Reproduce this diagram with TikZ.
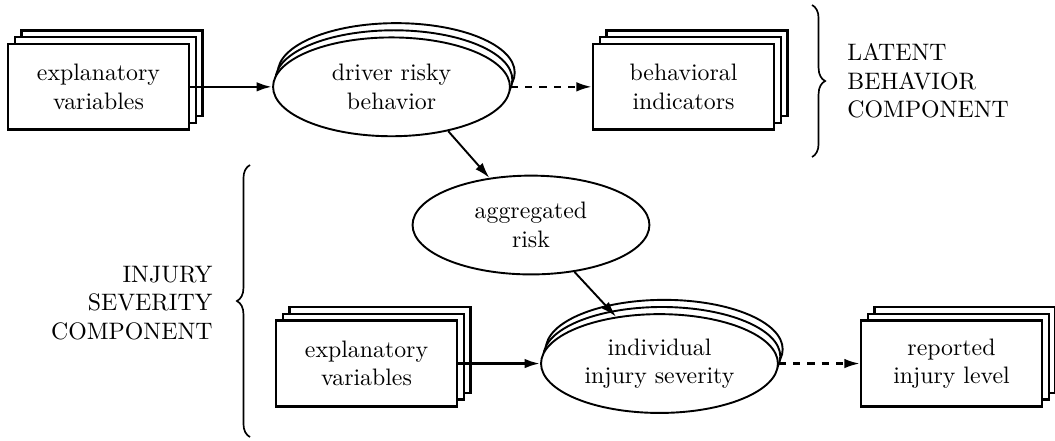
\documentclass[tikz,border=0pt]{standalone}
\usepackage{amsmath, amssymb}
\usepackage{tikz}
\usetikzlibrary{shapes, arrows.meta, positioning, shadows, decorations.pathreplacing}

\begin{document}
\begin{tikzpicture}[
    stackbox/.style={rectangle, draw, line width=1pt, fill=white, align=center,
        minimum width=76pt, minimum height=36pt,
        double copy shadow={shadow xshift=2.85pt, shadow yshift=2.85pt, fill=white, draw=black, line width=1pt}},
    stackell/.style={ellipse, draw, line width=0.8pt, fill=white, align=center,
        minimum width=99.5pt, minimum height=41.5pt,
        double copy shadow={shadow xshift=1pt, shadow yshift=3pt, fill=white, draw=black, line width=0.8pt}},
    latvar/.style={ellipse, draw, line width=0.8pt, align=center, minimum width=99.5pt, minimum height=41.5pt},
    compo/.style={inner sep=0pt},
    link/.style={-{Latex[length=6.5pt,width=4pt]}},
    brc/.style={line width=0.7pt, decorate, decoration={brace, amplitude=5.5pt}}
  ]
    \useasboundingbox (0,0) rectangle (15.575,6.496);

    % latent behavior part
    \node[stackbox] (explA) at (1.454,5.214) {explanatory\\variables};
    \node[stackell] (risky) at (5.780,5.214) {driver risky\\behavior};
    \node[stackbox] (indic) at (10.091,5.214) {behavioral\\indicators};
    \node[latvar] (aggr) at (7.839,3.174) {aggregated\\risk};

    % injury severity part
    \node[stackbox] (explB) at (5.411,1.129) {explanatory\\variables};
    \node[stackell] (injury) at (9.736,1.129) {individual\\injury severity};
    \node[stackbox] (report) at (14.047,1.129) {reported\\injury level};

    \draw[link, line width=1.1pt] (explA) -- (risky);
    \draw[link, line width=1pt, dashed] (risky) -- (indic);
    \draw[link, line width=0.8pt] (risky.-38) -- (aggr);
    \draw[link, line width=0.8pt] (aggr) -- (injury);
    \draw[link, line width=1.1pt] (explB) -- (injury);
    \draw[link, line width=1pt, dashed] (injury) -- (report);

    % braces and labels
    \draw[brc] (11.988,6.422) -- (11.988,4.178);
    \node[compo, anchor=west, align=left] (latent) at (12.504,5.300) {LATENT\\BEHAVIOR\\COMPONENT};
    \draw[brc] (3.691,0.044) -- (3.691,4.060);
    \node[compo, anchor=east, align=right] (sever) at (3.145,2.023) {INJURY\\SEVERITY\\COMPONENT};
\end{tikzpicture}
\end{document}
